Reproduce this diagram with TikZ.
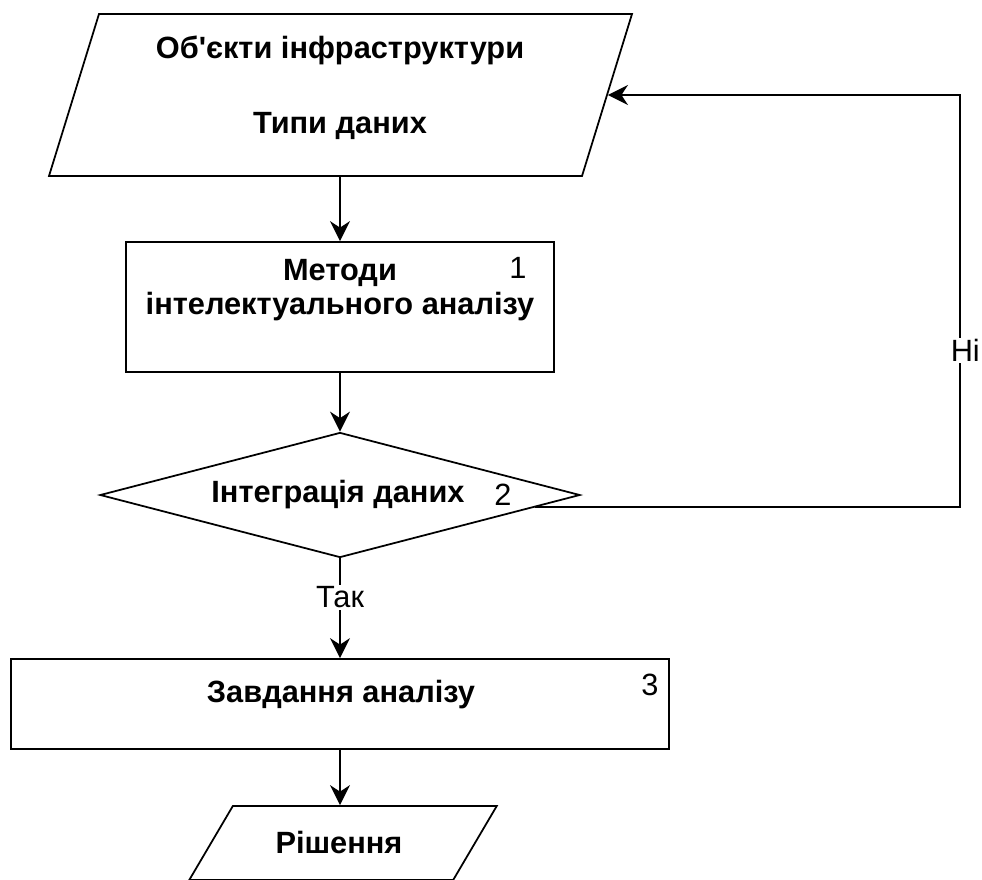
\documentclass[tikz,border=0pt]{standalone}
\usepackage{fontspec}
\newfontfamily\arial{Liberation Sans}
\usepackage{tikz}
\usetikzlibrary{calc}
\usetikzlibrary{shapes.geometric}
\usetikzlibrary{arrows.meta}
\tikzset{
  blk/.style={draw, line width=1pt, inner sep=2pt},
  io/.style={blk, trapezium, trapezium stretches body=true},
  proc/.style={blk, rectangle},
  decision/.style={blk, diamond},
  lbl/.style={font=\arial\fontsize{17.5}{19}\selectfont\bfseries, align=center},
  numtag/.style={font=\arial\fontsize{17.5}{19}\selectfont},
  flow/.style={line width=1pt,-{Stealth[length=4mm,width=4mm,inset=1.3mm]}}
}

\begin{document}
\begin{tikzpicture}
	\useasboundingbox (0,0) rectangle (19.64,-17.58);
	\node [io, trapezium left angle=72.85, trapezium right angle=107.15,
	       inner ysep=1.62cm, minimum width=11.66cm] (objects) at (6.81,-1.9) {};
	\node [lbl] (objtxt) at (6.8,-1.76) {Об'єкти інфраструктури\\[24pt]Типи даних};
	\node [proc, minimum width=8.56cm, minimum height=2.6cm] (methods) at (6.8,-6.14) {};
	\node [lbl] (methtxt) at (6.8,-5.8) {Методи\\інтелектуального аналізу};
	\node [numtag] (n1) at (10.36,-5.36) {1};
	\node [decision, minimum width=9.6cm, minimum height=2.5cm] (integr) at (6.8,-9.9) {};
	\node [lbl] (integrtxt) at (6.76,-9.9) {Інтеграція даних};
	\node [numtag] (n2) at (10.06,-9.9) {2};
	\node [proc, minimum width=13.16cm, minimum height=1.8cm] (task) at (6.8,-14.08) {};
	\node [lbl] (tasktxt) at (6.82,-13.9) {Завдання аналізу};
	\node [numtag] (n3) at (13.0,-13.7) {3};
	\node [io, trapezium left angle=59.5, trapezium right angle=120.5,
	       inner ysep=0.74cm, minimum width=6.15cm] (result) at (6.86,-16.86) {};
	\node [lbl] (restxt) at (6.78,-16.84) {Рішення};
	\coordinate (back) at (19.2,-1.9);
	% main flow
	\draw [flow] (methods.north |- objects.south) -- (methods.north);
	\draw [flow] (methods.south) -- (integr.north);
	\draw [flow] (integr.south) -- node [numtag, fill=white, inner sep=1pt, pos=0.39] (yes) {Так} (task.north);
	\draw [flow] (task.south) -- (task.south |- result.north);
	% feedback
	\draw [flow] ($(integr.east)!0.19!(integr.south)$) -| node [numtag, fill=white, inner sep=1pt, pos=0.69, xshift=3pt] (no) {Ні} (back) -- (objects.east);
\end{tikzpicture}
\end{document}
